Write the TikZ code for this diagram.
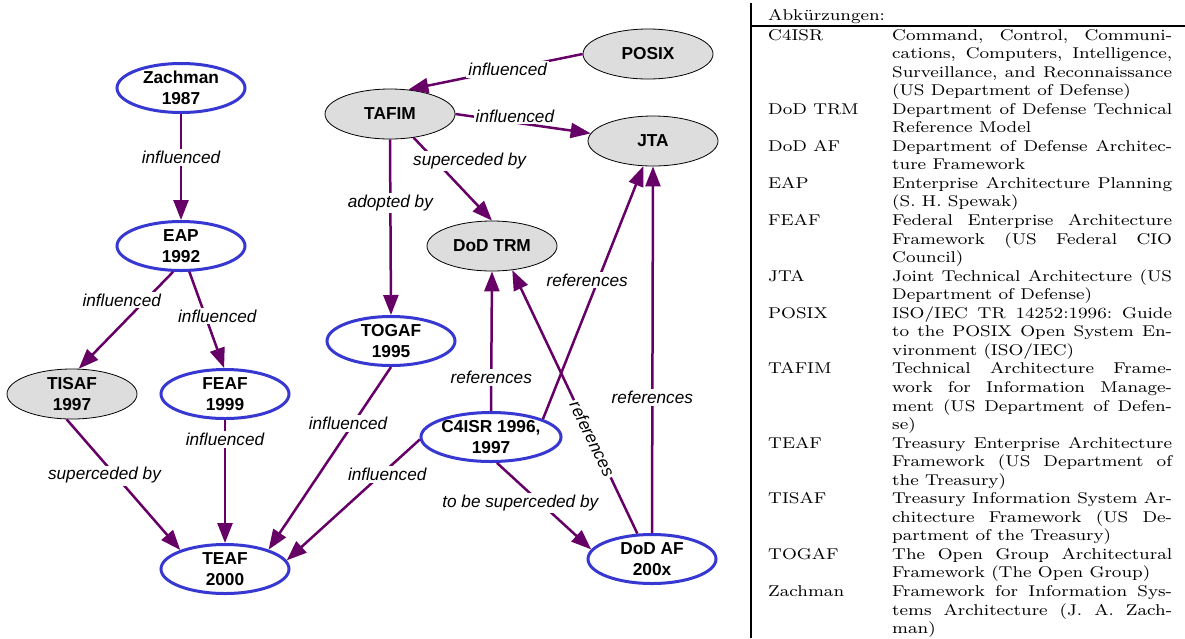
\documentclass[tikz,border=0pt]{standalone}
\usepackage{fontspec}
\usepackage{graphicx}
\usetikzlibrary{shapes.geometric,arrows.meta}
\newfontfamily\arialf{Liberation Sans}
\definecolor{edgec}{RGB}{102,0,102}
\definecolor{nblue}{RGB}{55,55,210}
\definecolor{ngray}{RGB}{221,221,221}
\newlength\dw \setlength\dw{124.4pt}
\newcommand\tabfnt{\fontsize{8}{9.5}\selectfont\frenchspacing}
\newcommand\jline[1]{\hbox to \dw{#1}}
\newcommand\lastln[1]{\hbox{#1}}
\newcommand\tabtxt[1]{\scalebox{2.25}[1.953]{\tabfnt #1}}
\newcommand\desctxt[1]{\scalebox{2.25}[1.953]{\vtop{\tabfnt #1}}}
\begin{document}
\begin{tikzpicture}[x=1pt,y=-1pt,
 nd/.style={ellipse, inner sep=0pt, align=center, font={\arialf\bfseries\fontsize{17.3}{20.5}\selectfont}},
 bl/.style={nd, draw=nblue, line width=3pt, fill=white, minimum width=128pt, minimum height=49pt},
 gr/.style={nd, draw=black, line width=0.8pt, fill=ngray, minimum width=130pt, minimum height=50pt},
 conn/.style={draw=edgec, line width=2.5pt, -{Triangle[length=20pt,width=15pt]}},
 lab/.style={font={\arialf\itshape\fontsize{17.2}{20}\selectfont}, fill=white, inner sep=2pt, text=black},
 tabn/.style={inner sep=0pt, anchor=base west}
]
\fill[white] (0,0) rectangle (1185,638);
\useasboundingbox (0,0) rectangle (1185,638);

% nodes
\node[bl] (zach) at (181,88) {Zachman\\1987};
\node[bl] (eap) at (181,246) {EAP\\1992};
\node[gr] (tisaf) at (72,394) {TISAF\\1997};
\node[bl] (feaf) at (225,394) {FEAF\\1999};
\node[bl] (teaf) at (225,569) {TEAF\\2000};
\node[bl] (togaf) at (391,341) {TOGAF\\1995};
\node[bl] (c4isr) at (491,437) {C4ISR 1996,\\1997};
\node[bl] (dodaf) at (652,559) {DoD AF\\200x};
\node[gr] (tafim) at (390,114) {TAFIM};
\node[gr] (posix) at (648,54) {POSIX};
\node[gr] (jta) at (653,141) {JTA};
\node[gr] (dodtrm) at (492,246) {DoD TRM};

% connectors
\draw[conn] (zach.south) -- node[lab,pos=0.41]{influenced} (eap.north);
\draw[conn] (eap.253) -- node[lab,pos=0.29,xshift=-24pt]{influenced} (tisaf.75);
\draw[conn] (eap.288) -- node[lab,pos=0.46,xshift=12pt]{influenced} (feaf.92);
\draw[conn] (tisaf.258) -- node[lab,pos=0.43,xshift=-11pt]{superceded by} (teaf.157);
\draw[conn] (feaf.south) -- node[lab,pos=0.16]{influenced} (teaf.north);
\draw[conn] (togaf.south) -- node[lab,pos=0.31,xshift=-5pt]{influenced} (teaf.24);
\draw[conn] (c4isr.182) -- node[lab,pos=0.29,xshift=6pt]{influenced} (teaf.8);
\draw[conn] (posix.west) -- node[lab,pos=0.43]{influenced} (tafim.53);
\draw[conn] (tafim.east) -- node[lab,pos=0.44,yshift=6.5pt]{influenced} (jta.173);
\draw[conn] (tafim.315) -- node[lab,pos=0.28,xshift=34pt]{superceded by} (dodtrm.north);
\draw[conn] (tafim.south) -- node[lab,pos=0.36]{adopted by} (togaf.north);
\draw[conn] (c4isr.north) -- node[lab,pos=0.24]{references} (dodtrm.south);
\draw[conn] (c4isr.19) -- node[lab,pos=0.55,xshift=-11pt]{references} (jta.249);
\draw[conn] (dodaf.120) -- node[lab,pos=0.36,rotate=-64]{references} (dodtrm.310);
\draw[conn] (dodaf.north) -- node[lab,pos=0.37]{references} (jta.south);
\draw[conn] (c4isr.283) -- node[lab,pos=0.46,xshift=-20pt]{to be superceded by} (dodaf.171);

% table
\draw[line width=2.2pt] (751,3) -- (751,638);
\draw[line width=1.6pt] (751,25.8) -- (1185,25.8);
\node[tabn] (head) at (768,20.5) {\tabtxt{Abkürzungen:}};

\node[tabn] (a1) at (768,40) {\tabtxt{C4ISR}};
\node[tabn] (d1) at (892,40) {\desctxt{\jline{Command, Control, Communi-}\jline{cations, Computers, Intelligence,}\jline{Surveillance, and Reconnaissance}\lastln{(US Department of Defense)}}};
\node[tabn] (a2) at (768,114.2) {\tabtxt{DoD TRM}};
\node[tabn] (d2) at (892,114.2) {\desctxt{\jline{Department of Defense Technical}\lastln{Reference Model}}};
\node[tabn] (a3) at (768,151.3) {\tabtxt{DoD AF}};
\node[tabn] (d3) at (892,151.3) {\desctxt{\jline{Department of Defense Architec-}\lastln{ture Framework}}};
\node[tabn] (a4) at (768,188.4) {\tabtxt{EAP}};
\node[tabn] (d4) at (892,188.4) {\desctxt{\jline{Enterprise Architecture Planning}\lastln{(S. H. Spewak)}}};
\node[tabn] (a5) at (768,225.5) {\tabtxt{FEAF}};
\node[tabn] (d5) at (892,225.5) {\desctxt{\jline{Federal Enterprise Architecture}\jline{Framework (US Federal CIO}\lastln{Council)}}};
\node[tabn] (a6) at (768,281.15) {\tabtxt{JTA}};
\node[tabn] (d6) at (892,281.15) {\desctxt{\jline{Joint Technical Architecture (US}\lastln{Department of Defense)}}};
\node[tabn] (a7) at (768,318.25) {\tabtxt{POSIX}};
\node[tabn] (d7) at (892,318.25) {\desctxt{\jline{ISO/IEC TR 14252:1996: Guide}\jline{to the POSIX Open System En-}\lastln{vironment (ISO/IEC)}}};
\node[tabn] (a8) at (768,373.9) {\tabtxt{TAFIM}};
\node[tabn] (d8) at (892,373.9) {\desctxt{\jline{Technical Architecture Frame-}\jline{work for Information Manage-}\jline{ment (US Department of Defen-}\lastln{se)}}};
\node[tabn] (a9) at (768,448.1) {\tabtxt{TEAF}};
\node[tabn] (d9) at (892,448.1) {\desctxt{\jline{Treasury Enterprise Architecture}\jline{Framework (US Department of}\lastln{the Treasury)}}};
\node[tabn] (a10) at (768,503.75) {\tabtxt{TISAF}};
\node[tabn] (d10) at (892,503.75) {\desctxt{\jline{Treasury Information System Ar-}\jline{chitecture Framework (US De-}\lastln{partment of the Treasury)}}};
\node[tabn] (a11) at (768,559.4) {\tabtxt{TOGAF}};
\node[tabn] (d11) at (892,559.4) {\desctxt{\jline{The Open Group Architectural}\lastln{Framework (The Open Group)}}};
\node[tabn] (a12) at (768,596.5) {\tabtxt{Zachman}};
\node[tabn] (d12) at (892,596.5) {\desctxt{\jline{Framework for Information Sys-}\jline{tems Architecture (J. A. Zach-}\lastln{man)}}};
\end{tikzpicture}
\end{document}
